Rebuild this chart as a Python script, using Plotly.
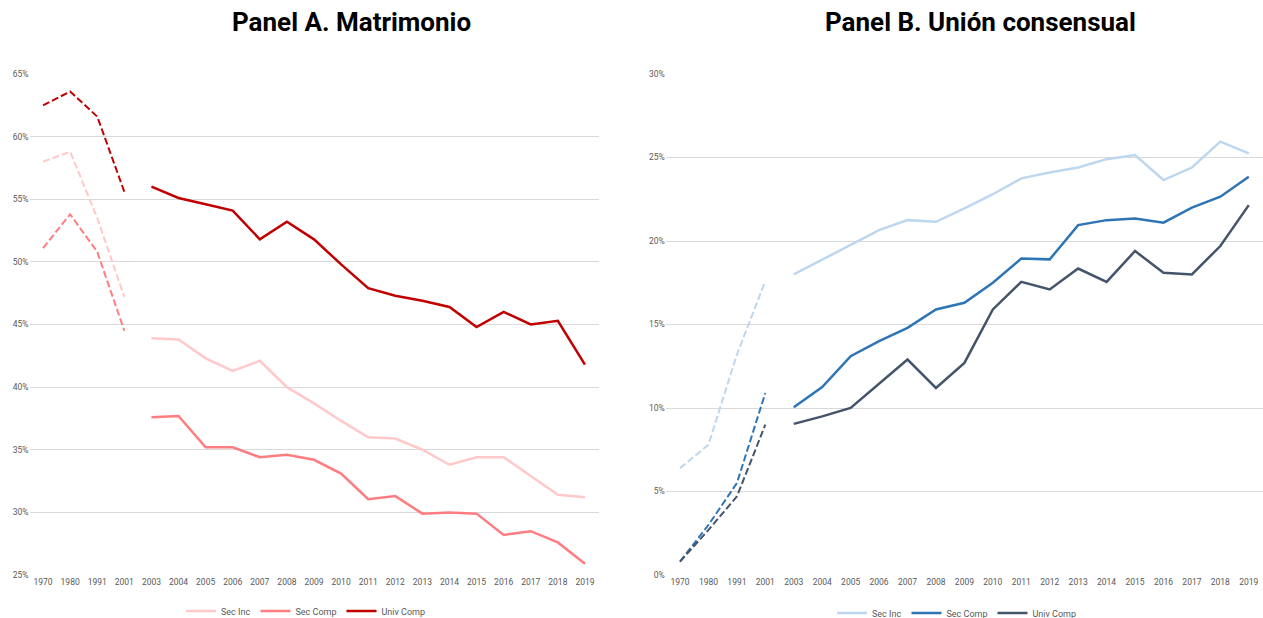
import plotly.graph_objects as go

categories = ["1970", "1980", "1991", "2001", "2003", "2004", "2005", "2006", "2007", "2008",
              "2009", "2010", "2011", "2012", "2013", "2014", "2015", "2016", "2017", "2018", "2019"]
series_names = ["Sec Inc", "Sec Comp", "Univ Comp"]

# Panel A (Matrimonio), percent: census years (dashed) and survey years (solid)
a_census = {
    "Sec Inc":   [58.0, 58.8, 53.5, 47.2],
    "Sec Comp":  [51.1, 53.8, 50.8, 44.5],
    "Univ Comp": [62.5, 63.6, 61.6, 55.6],
}
a_survey = {
    "Sec Inc":   [43.9, 43.8, 42.3, 41.3, 42.1, 40.0, 38.7, 37.3, 36.0, 35.9, 35.0, 33.8, 34.4, 34.4, 32.9, 31.4, 31.2],
    "Sec Comp":  [37.6, 37.7, 35.2, 35.2, 34.4, 34.6, 34.2, 33.1, 31.05, 31.3, 29.9, 30.0, 29.9, 28.2, 28.5, 27.6, 25.9],
    "Univ Comp": [56.0, 55.1, 54.6, 54.1, 51.8, 53.2, 51.8, 49.8, 47.9, 47.3, 46.9, 46.4, 44.8, 46.0, 45.0, 45.3, 41.8],
}
# Panel B (Unión consensual), percent
b_census = {
    "Sec Inc":   [6.4, 7.8, 13.2, 17.6],
    "Sec Comp":  [0.8, 3.0, 5.5, 10.9],
    "Univ Comp": [0.8, 2.7, 4.7, 9.0],
}
b_survey = {
    "Sec Inc":   [18.0, 18.9, 19.75, 20.65, 21.25, 21.15, 21.95, 22.8, 23.75, 24.1, 24.4, 24.9, 25.15, 23.65, 24.4, 25.95, 25.25],
    "Sec Comp":  [10.05, 11.25, 13.1, 14.0, 14.8, 15.9, 16.3, 17.5, 18.95, 18.9, 20.95, 21.25, 21.35, 21.1, 22.0, 22.65, 23.85],
    "Univ Comp": [9.05, 9.5, 10.0, 11.45, 12.9, 11.2, 12.7, 15.9, 17.55, 17.1, 18.35, 17.55, 19.4, 18.1, 18.0, 19.7, 22.15],
}

a_colors = {"Sec Inc": "#FFC9C9", "Sec Comp": "#FF7C80", "Univ Comp": "#C00000"}
b_colors = {"Sec Inc": "#BDD7EE", "Sec Comp": "#2E75B6", "Univ Comp": "#44546A"}

titles = ["Panel A. Matrimonio", "Panel B. Unión consensual"]

W, H = 1263, 618
font_fam = "Roboto, Noto Sans, sans-serif"

fig = go.Figure()

def add_panel(census, survey, colors, xa, ya, legend):
    for name in series_names:
        fig.add_trace(go.Scatter(
            x=categories[:4], y=[v / 100 for v in census[name]],
            mode="lines", line=dict(color=colors[name], width=2, dash="7px,3px"),
            showlegend=False, xaxis=xa, yaxis=ya, hoverinfo="skip"))
    for name in series_names:
        fig.add_trace(go.Scatter(
            x=categories[4:], y=[v / 100 for v in survey[name]],
            mode="lines", line=dict(color=colors[name], width=2.5),
            name=name, legend=legend, xaxis=xa, yaxis=ya))

add_panel(a_census, a_survey, a_colors, "x", "y", "legend")
add_panel(b_census, b_survey, b_colors, "x2", "y2", "legend2")

ydom = [1 - 575 / H, 1 - 74 / H]
axis_font = dict(family=font_fam, size=8.5, color="#595959")
xcommon = dict(type="category", categoryorder="array", categoryarray=categories,
               range=[-0.5, len(categories) - 0.5],
               showgrid=False, showline=False, zeroline=False, ticks="",
               tickfont=axis_font, fixedrange=True)
ycommon = dict(showgrid=True, gridcolor="#D9D9D9", gridwidth=1, zeroline=False,
               showline=False, ticks="", tickformat=".0%", tickfont=axis_font, fixedrange=True)

legend_common = dict(orientation="h", xanchor="center", yanchor="middle",
                     font=dict(family=font_fam, size=9, color="#595959"), itemwidth=30,
                     bgcolor="rgba(0,0,0,0)", tracegroupgap=0)

fig.update_layout(
    width=W, height=H,
    margin=dict(l=0, r=0, t=0, b=0, autoexpand=False),
    paper_bgcolor="white", plot_bgcolor="white",
    xaxis=dict(domain=[29.5 / W, 598.5 / W], anchor="y", **xcommon),
    yaxis=dict(domain=ydom, anchor="x", range=[0.25, 0.65], dtick=0.05, **ycommon),
    xaxis2=dict(domain=[665.8 / W, 1.0], anchor="y2", **xcommon),
    yaxis2=dict(domain=ydom, anchor="x2", range=[0, 0.30], dtick=0.05, **ycommon),
    legend=dict(x=306 / W, y=1 - 611 / H, **legend_common),
    legend2=dict(x=957 / W, y=1 - 613 / H, **legend_common),
    annotations=[
        dict(text="<b>" + titles[0] + "</b>", x=351 / W, y=1 - 22 / H, xref="paper", yref="paper",
             showarrow=False, xanchor="center", yanchor="middle",
             font=dict(family=font_fam, size=26, color="black")),
        dict(text="<b>" + titles[1] + "</b>", x=980 / W, y=1 - 22 / H, xref="paper", yref="paper",
             showarrow=False, xanchor="center", yanchor="middle",
             font=dict(family=font_fam, size=26, color="black")),
    ],
)

fig.write_html("out.html", config={"displayModeBar": False},
               post_script="document.body.style.margin='0px';")
